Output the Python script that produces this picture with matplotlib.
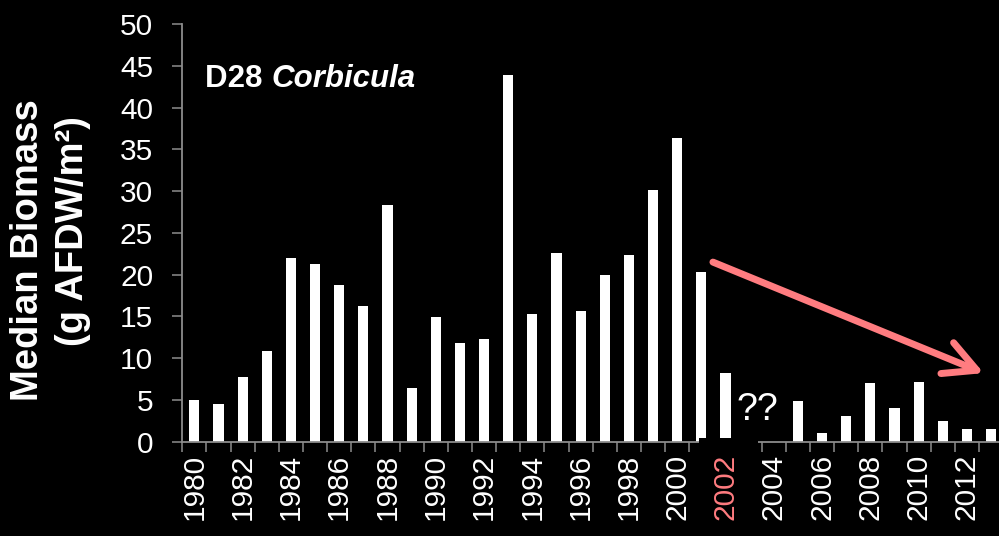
import matplotlib
matplotlib.use('Agg')
import matplotlib.pyplot as plt
import numpy as np
from matplotlib.patches import Rectangle

plt.rcParams['font.family'] = ['Liberation Sans', 'DejaVu Sans']

years = list(range(1980, 2014))
biomass = [5.0, 4.5, 7.7, 10.8, 22.0, 21.3, 18.7, 16.2, 28.4, 6.4,
           14.9, 11.8, 12.3, 43.9, 15.3, 22.6, 15.6, 19.9, 22.3, 30.1,
           36.4, 20.3, 8.2, np.nan, np.nan, 4.8, 1.0, 3.0, 7.0, 4.0,
           7.1, 2.45, 1.46, 1.53]
label_years = [y for y in years if y % 2 == 0]

grey = '#8c8c8c'
pink = '#ff7c80'

fig = plt.figure(figsize=(9.99, 5.36), dpi=100, facecolor='black')
ax = fig.add_axes([0.1825, 0.1763, 0.8216, 0.7784], facecolor='black')

x = np.arange(len(years))
ax.bar(x, biomass, width=0.42, color='white', zorder=2)

ax.set_xlim(-0.5, len(years) - 0.5)
ax.set_ylim(0, 50)

for side in ['top', 'right']:
    ax.spines[side].set_visible(False)
for side in ['left', 'bottom']:
    ax.spines[side].set_color(grey)
    ax.spines[side].set_linewidth(1.3)

# ticks at category boundaries, labels on even years
ax.set_xticks(np.arange(len(years) + 1) - 0.5)
ax.set_xticklabels([])
ax.tick_params(axis='x', which='major', direction='out', length=7, width=1.1, color=grey)
ax.set_xticks([years.index(y) for y in label_years], minor=True)
ax.set_xticklabels([str(y) for y in label_years], minor=True, rotation=90)
ax.tick_params(axis='x', which='minor', length=0, pad=9, labelsize=21.5, labelcolor='white')
for lbl in ax.get_xticklabels(minor=True):
    if lbl.get_text() == '2002':
        lbl.set_color(pink)

ax.set_yticks(np.arange(0, 51, 5))
ax.tick_params(axis='y', direction='out', length=7, width=1.1, color=grey,
               pad=14, labelsize=21.5, labelcolor='white')

# two-line y label
fig.text(28 / 999, 1 - 250 / 536, 'Median Biomass', rotation=90,
         ha='center', va='center', fontsize=27.5, fontweight='bold', color='white')
fig.text(73 / 999, 1 - 231 / 536, '(g AFDW/m²)', rotation=90,
         ha='center', va='center', fontsize=27.5, fontweight='bold', color='white')

# title inside plot
t1 = ax.text(0.028, 0.85, 'D28 ', transform=ax.transAxes, fontsize=22.5,
             fontweight='bold', color='white', va='baseline')
ax.annotate('Corbicula', xy=(1, 0), xycoords=t1, va='bottom', ha='left',
            fontsize=22.5, fontweight='bold', fontstyle='italic', color='white')

# gap in the axis where data are missing
ax.add_patch(Rectangle((20.9, -1.3), 2.45, 1.72, facecolor='black',
                       edgecolor='none', clip_on=False, zorder=5))
ax.text(23.3, 3.8, '??', color='white', fontsize=27, ha='center', va='center', zorder=6)

ax.annotate('', xy=(32.7, 8.2), xytext=(21.48, 21.5),
            arrowprops=dict(arrowstyle='->,head_length=1.15,head_width=0.6',
                            color=pink, lw=5, mutation_scale=20,
                            shrinkA=0, shrinkB=0, capstyle='round',
                            joinstyle='round'))

fig.savefig('out.png', dpi=100, facecolor='black')
